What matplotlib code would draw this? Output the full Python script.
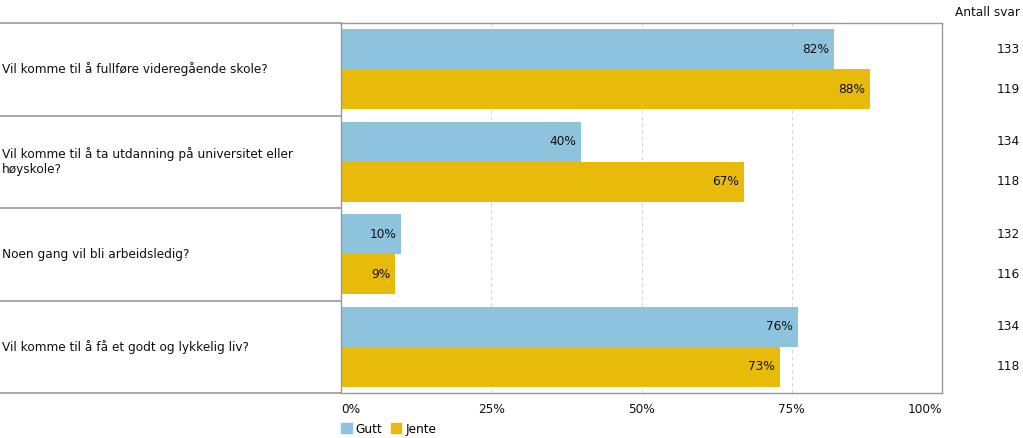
import matplotlib.pyplot as plt
import matplotlib.transforms as mtransforms
from matplotlib.patches import Patch

questions = [
    "Vil komme til å fullføre videregående skole?",
    "Vil komme til å ta utdanning på universitet eller\nhøyskole?",
    "Noen gang vil bli arbeidsledig?",
    "Vil komme til å få et godt og lykkelig liv?",
]
series = ["Gutt", "Jente"]
gutt = [82, 40, 10, 76]
jente = [88, 67, 9, 73]
gutt_n = [133, 134, 132, 134]
jente_n = [119, 118, 116, 118]
ticks = [0, 25, 50, 75, 100]
tick_labels = ["0%", "25%", "50%", "75%", "100%"]

BLUE = "#8EC3DE"
YELLOW = "#E8BA0A"
EDGE = "#999999"
TXT = "#111111"
FS = 8.7

W, H = 1023, 438
fig = plt.figure(figsize=(W / 100, H / 100), dpi=100)

left_px, right_px, top_px, bot_px = 341, 942, 23, 393
ax = fig.add_axes([left_px / W, 1 - bot_px / H, (right_px - left_px) / W, (bot_px - top_px) / H])
lab = fig.add_axes([0, 1 - bot_px / H, left_px / W, (bot_px - top_px) / H])

bh = 0.43
ypos = list(range(len(questions)))
yb = [y - bh / 2 for y in ypos]
yj = [y + bh / 2 for y in ypos]

ax.barh(yb, gutt, height=bh, color=BLUE, zorder=2)
ax.barh(yj, jente, height=bh, color=YELLOW, zorder=2)

for y, v in zip(yb, gutt):
    ax.text(v - 0.8, y, f"{v}%", ha="right", va="center", fontsize=FS, color=TXT, zorder=3)
for y, v in zip(yj, jente):
    ax.text(v - 0.8, y, f"{v}%", ha="right", va="center", fontsize=FS, color=TXT, zorder=3)

ax.set_xlim(0, 100)
ax.set_ylim(len(questions) - 0.5, -0.5)
ax.set_yticks([])
ax.set_xticks(ticks)
ax.set_xticklabels(tick_labels, fontsize=FS, color=TXT)
ax.tick_params(axis="x", length=0, pad=7)
xl = ax.get_xticklabels()
xl[0].set_ha("left")
xl[-1].set_ha("right")
ax.grid(axis="x", color="#d4d4d4", linestyle=(0, (3, 3)), linewidth=0.8, zorder=0)
for sp in ax.spines.values():
    sp.set_color(EDGE)
    sp.set_linewidth(1)

# question label panel
lab.set_xlim(0, 1)
lab.set_ylim(len(questions) - 0.5, -0.5)
lab.axis("off")
for b in [y - 0.5 for y in ypos] + [ypos[-1] + 0.5]:
    lab.plot([0, 1], [b, b], color=EDGE, linewidth=1.2, clip_on=False)
for y, q in zip(ypos, questions):
    lab.text(0.006, y, q, ha="left", va="center", fontsize=FS, color=TXT, linespacing=1.2)

# counts column
ctr = mtransforms.blended_transform_factory(fig.transFigure, ax.transData)
cx = 1020 / W
for y, n in zip(yb, gutt_n):
    ax.text(cx, y, str(n), transform=ctr, ha="right", va="center", fontsize=FS, color=TXT)
for y, n in zip(yj, jente_n):
    ax.text(cx, y, str(n), transform=ctr, ha="right", va="center", fontsize=FS, color=TXT)
fig.text(cx, 1 - 12 / H, "Antall svar", ha="right", va="center", fontsize=FS, color=TXT)

handles = [Patch(color=BLUE, label=series[0]), Patch(color=YELLOW, label=series[1])]
ax.legend(handles=handles, loc="upper left", bbox_to_anchor=(0, -0.08), ncol=2, frameon=False,
          fontsize=FS, handlelength=0.9, handleheight=0.9, handletextpad=0.3,
          columnspacing=0.7, borderaxespad=0, borderpad=0)

fig.savefig("out.png", dpi=100)
